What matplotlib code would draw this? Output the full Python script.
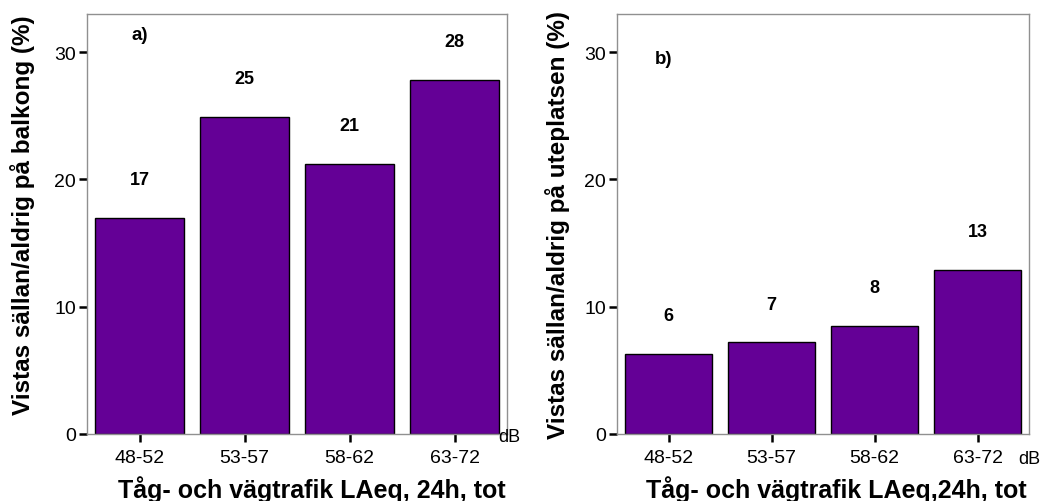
import matplotlib
matplotlib.use("Agg")
import matplotlib.pyplot as plt

plt.rcParams['font.family'] = ['Liberation Sans', 'DejaVu Sans']

categories = ["48-52", "53-57", "58-62", "63-72"]
balkong = [17.0, 24.9, 21.2, 27.8]
uteplats = [6.3, 7.2, 8.5, 12.9]

bar_color = "#640096"
frame_color = "#909090"

fig = plt.figure(figsize=(10.53, 5.02), dpi=100)
ax_a = fig.add_axes([87 / 1053, 1 - 435 / 502, 420 / 1053, 420 / 502])
ax_b = fig.add_axes([617 / 1053, 1 - 435 / 502, 412 / 1053, 420 / 502])


def draw_panel(ax, values, tag, tag_xy, ylabel, ylabel_xy, xlabel, xlabel_x, db_xy):
    x = range(len(categories))
    ax.bar(x, values, width=0.85, color=bar_color, edgecolor="black", linewidth=1.0)
    for xi, v in zip(x, values):
        ax.text(xi, v + 3.0, f"{v:.0f}", ha="center", va="center",
                fontsize=13, fontweight="bold")
    ax.set_xlim(-0.5, len(categories) - 0.5)
    ax.set_ylim(0, 33)
    ax.set_yticks([0, 10, 20, 30])
    ax.set_xticks(list(x))
    ax.set_xticklabels(categories)
    ax.tick_params(axis="both", direction="out", length=6, width=1.8,
                   color="black", labelsize=14)
    ax.tick_params(axis="x", pad=5)
    ax.tick_params(axis="y", pad=2)
    for s in ax.spines.values():
        s.set_color(frame_color)
        s.set_linewidth(1.0)
    ax.text(tag_xy[0], tag_xy[1], tag, ha="center", va="center",
            fontsize=13.5, fontweight="bold")
    ax.set_ylabel(ylabel, fontsize=17.5, fontweight="bold")
    ax.yaxis.set_label_coords(*ylabel_xy)
    ax.text(xlabel_x, -0.131, xlabel, transform=ax.transAxes, ha="center",
            va="center", fontsize=18, fontweight="bold")
    ax.text(db_xy[0], db_xy[1], "dB", transform=ax.transAxes, ha="center",
            va="center", fontsize=13)


draw_panel(ax_a, balkong, "a)", (0.0, 31.4),
           "Vistas sällan/aldrig på balkong (%)", (-0.124, 0.524),
           "Tåg- och vägtrafik LAeq, 24h, tot", 0.535,
           (1.005, -0.007))
draw_panel(ax_b, uteplats, "b)", (-0.05, 29.5),
           "Vistas sällan/aldrig på uteplatsen (%)", (-0.114, 0.5),
           "Tåg- och vägtrafik LAeq,24h, tot", 0.533,
           (1.0, -0.058))

fig.savefig("out.png", dpi=100)
